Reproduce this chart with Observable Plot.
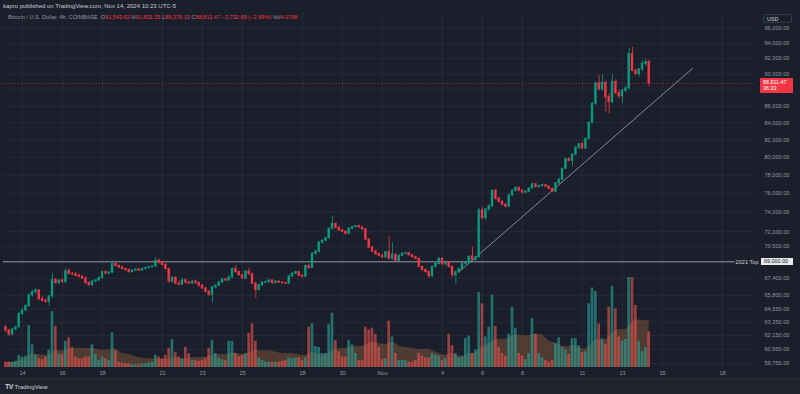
<!DOCTYPE html>
<html><head><meta charset="utf-8">
<script src="https://cdn.jsdelivr.net/npm/d3@7"></script>
<script src="https://cdn.jsdelivr.net/npm/@observablehq/plot@0.6"></script>
<style>
html,body{margin:0;padding:0;background:#1b1f2b;}
#wrap{position:relative;width:800px;height:394px;overflow:hidden;background:#1b1f2b;font-family:"Liberation Sans",Arial,sans-serif;}
#wrap svg{position:absolute;left:0;top:0;}
.lbl{position:absolute;white-space:nowrap;line-height:1;}
</style></head><body><div id="wrap"></div>
<script>
// ---- data: BTC/USD 4h candles, Coinbase, from Oct 13 2024 04:00 ----
const startTime = Date.UTC(2024, 9, 13, 4);
const stepHours = 4;
const open = [62900,62600,62250,62700,62900,64100,64400,64800,65800,66100,
66250,65450,65300,65200,65700,67250,66950,67200,67050,68100,
67850,67800,67650,67550,67400,66950,66750,67100,67200,67450,
68000,67850,67950,68800,68600,68450,68300,68200,68000,68150,
68250,68150,68300,68400,68480,68550,69100,68900,68700,68300,
67100,67450,66900,66800,67200,67000,66900,67100,66950,66700,
66450,66150,65850,66550,66700,67000,67300,67200,67500,68300,
68000,67700,67400,68050,67800,66900,66300,66750,67000,67050,
67200,66950,67100,67000,66950,66900,67600,67850,68000,67650,
67550,68600,68400,69800,70000,70900,71100,71350,72300,72800,
72400,72150,72000,71800,72300,72480,72580,72450,72250,71200,
70400,70000,69750,69600,69450,69950,69300,69700,69100,69600,
69800,69850,69650,69450,69300,68500,68200,68000,67600,68500,
68800,69300,68750,68900,68500,67700,68000,68300,68800,68900,
69500,69200,69450,74200,73400,74300,74650,76300,75450,75100,
74800,74600,75800,76300,76600,76300,76100,76200,76550,77000,
76700,76800,76900,76750,76500,76200,77100,77500,78700,79800,
79600,80300,81100,81500,81000,82100,84000,86300,88800,88100,
88900,87100,86500,89000,87600,87200,87900,88200,92600,90400,
90000,90600,91300,91543.62];
const high = [63050,62700,62800,63000,64250,64550,64950,65950,66250,66450,
66350,65700,65500,65800,67900,67400,67250,67350,68400,68350,
68000,67950,67800,67700,67500,67100,67200,67300,67550,68100,
68150,68050,68900,68950,68700,68550,68400,68300,68250,68300,
68350,68400,68500,68550,68650,69400,69300,69000,68800,68400,
67600,67550,67150,67400,67350,67150,67200,67200,67050,66800,
66550,66250,66650,66800,67100,67400,67400,67600,68400,68650,
68100,67800,68150,68400,67900,67000,66850,67050,67150,67300,
67250,67200,67150,67100,67050,67700,67950,68100,68050,67750,
68700,68750,69900,70150,71000,71200,71450,72400,73600,72900,
72550,72250,72100,72400,72550,72650,72650,72500,72300,71300,
70500,70150,69900,69750,70050,71500,70900,69800,69650,69900,
69950,69900,69700,69550,69350,68600,68300,68100,68600,68900,
69400,69400,69000,69000,68600,68100,68400,68900,69000,69600,
70450,69500,74400,74500,74400,74800,76400,76450,75600,75250,
74950,75900,76400,76700,76700,76400,76300,76650,77150,77100,
76900,77000,76950,76800,76600,77200,77650,78800,79900,79950,
80400,81200,81600,81750,82200,84100,86400,89000,89800,89900,
89100,87600,89900,89300,88000,88100,88500,93300,93500,90700,
90700,91700,91900,91831.25];
const low = [62450,62050,62150,62600,62800,63950,64300,64700,65650,65900,
65300,65200,65050,64750,65500,66850,66800,66950,66900,67750,
67650,67550,67450,67300,66850,66650,66650,66950,67100,67350,
67750,67750,67850,68500,68350,68200,68100,67900,67950,68050,
68100,68100,68200,68300,68400,68450,68800,68600,68200,66900,
66950,66800,66700,66750,66850,66850,66800,66850,66600,66350,
66050,65700,65100,66400,66600,66900,67100,67100,67400,67900,
67600,67300,67300,67700,66800,65500,66200,66650,66900,66950,
66850,66900,66950,66850,66850,66850,67500,67750,67550,67450,
67500,68300,68350,69650,69900,70750,71000,71250,72200,72300,
72050,71900,71700,71700,72200,72400,72350,72150,71100,70300,
69900,69600,69500,69350,69300,69200,69200,69000,69000,69500,
69700,69550,69400,69200,68400,68100,67900,67400,67500,68400,
68700,68650,68600,68400,67500,66800,67900,68200,68600,68800,
69100,69000,69350,73200,73200,74100,74500,75300,74950,74700,
74450,74500,75700,76150,76200,76000,76000,76100,76450,76600,
76600,76700,76650,76400,76100,76100,77000,77400,78600,79500,
79000,80200,80900,80900,80900,82000,83900,86100,87900,87800,
85300,85100,86300,87400,86900,86300,87700,88000,90300,89800,
89600,90300,91000,88376.13];
const close = [62600,62250,62700,62900,64100,64400,64800,65800,66100,66250,
65450,65300,65200,65700,67250,66950,67200,67050,68100,67850,
67800,67650,67550,67400,66950,66750,67100,67200,67450,68000,
67850,67950,68800,68600,68450,68300,68200,68000,68150,68250,
68150,68300,68400,68480,68550,69100,68900,68700,68300,67100,
67450,66900,66800,67200,67000,66900,67100,66950,66700,66450,
66150,65850,66550,66700,67000,67300,67200,67500,68300,68000,
67700,67400,68050,67800,66900,66300,66750,67000,67050,67200,
66950,67100,67000,66950,66900,67600,67850,68000,67650,67550,
68600,68400,69800,70000,70900,71100,71350,72300,72800,72400,
72150,72000,71800,72300,72480,72580,72450,72250,71200,70400,
70000,69750,69600,69450,69950,69300,69700,69100,69600,69800,
69850,69650,69450,69300,68500,68200,68000,67600,68500,68800,
69300,68750,68900,68500,67700,68000,68300,68800,68900,69500,
69200,69450,74200,73400,74300,74650,76300,75450,75100,74800,
74600,75800,76300,76600,76300,76100,76200,76550,77000,76700,
76800,76900,76750,76500,76200,77100,77500,78700,79800,79600,
80300,81100,81500,81000,82100,84000,86300,88800,88100,88900,
87100,86500,89000,87600,87200,87900,88200,92600,90400,90000,
90600,91300,91544.16,88811.47];
// volume in thousands of BTC
const volumeK = [0.6,0.6,0.6,0.7,1.4,1.2,1.3,4.8,2.6,1.4,
1.0,0.9,1.2,2.0,6.4,4.7,1.5,1.5,3.0,3.4,
2.3,1.2,1.0,1.0,1.2,1.2,2.6,1.5,0.8,1.2,
1.0,0.8,4.0,1.9,0.6,0.5,0.4,0.4,0.3,0.3,
0.3,0.4,0.4,0.5,0.6,1.4,1.2,1.0,1.4,2.2,
3.2,1.7,1.2,1.0,2.3,1.6,0.8,0.8,0.7,0.8,
1.0,2.2,3.1,1.6,1.1,0.9,0.8,3.0,3.0,1.6,
1.2,1.4,1.6,3.9,5.0,3.0,1.1,0.8,0.6,0.6,
0.6,0.6,0.6,0.7,0.8,1.1,1.0,1.1,1.1,0.8,
1.1,4.6,5.0,2.4,2.3,1.6,1.6,4.9,6.2,3.1,
1.8,1.2,1.2,3.1,2.6,1.6,0.8,0.8,4.6,4.3,
4.5,3.8,2.3,0.9,1.0,5.3,3.5,1.6,0.8,0.8,
0.8,0.6,0.6,0.8,1.6,1.3,1.1,1.1,1.6,1.4,
1.3,0.8,1.0,3.8,2.5,1.6,1.1,1.2,3.3,3.6,
1.6,2.0,8.6,7.3,3.5,4.6,8.3,4.7,2.3,1.6,
1.3,3.8,6.9,4.5,1.6,1.3,0.9,1.6,5.6,3.8,
1.6,1.1,0.8,0.6,0.8,2.7,3.4,2.3,2.0,1.5,
3.3,3.3,2.5,1.7,1.8,7.3,9.1,8.7,5.0,3.3,
2.6,6.9,9.3,6.7,3.5,3.0,3.2,10.3,10.3,7.1,
3.0,1.8,2.3,4.076];

const xTickDates = ["2024-10-14","2024-10-16","2024-10-18","2024-10-21","2024-10-23","2024-10-25","2024-10-28","2024-10-30","2024-11-01","2024-11-04","2024-11-06","2024-11-08","2024-11-11","2024-11-13","2024-11-15","2024-11-18"];
const xTickLabels = ["14","16","18","21","23","25","28","30","Nov","4","6","8","11","13","15","18"];
const yTicks = [96000,94000,92000,90000,86000,84000,82000,80000,78000,76000,74000,72000,70500,67400,65800,64550,63350,62150,60950,59750];
const yGrid = [96000,94000,92000,90000,88000,86000,84000,82000,80000,78000,76000,74000,72000,70500,69000,67400,65800,64550,63350,62150,60950,59750];
const topLevel = 69000;            // "2021 Top"
const trendDates = ["2024-11-04T19:00Z","2024-11-16T12:00Z"];
const trendPrices = [67970, 90720];

// ---- build ----
const HOUR = 3600e3;
const UP = "#089981", DOWN = "#f23645";
const VUP = "#26a69a", VDOWN = "#ef5350";
const candles = open.map((o, i) => ({
  date: new Date(startTime + i * stepHours * HOUR),
  open: o, high: high[i], low: low[i], close: close[i], vol: volumeK[i],
  color: close[i] >= o ? UP : DOWN,
  vcolor: close[i] >= o ? VUP : VDOWN
}));
const trend = trendDates.map((d, i) => ({date: new Date(d), price: trendPrices[i]}));
const xDates = xTickDates.map(d => new Date(d + "T00:00Z"));
const labelOf = new Map(xDates.map((d, i) => [+d, xTickLabels[i]]));
const last = candles[candles.length - 1];
const prev = candles[candles.length - 2];

const FONT = '"Liberation Sans", Arial, sans-serif';
const BG = "#1b1f2b", GRID = "#262a36";
const dims = {width: 800, height: 394, marginTop: 12, marginBottom: 26, marginLeft: 3, marginRight: 46};
const xScale = {type: "utc", domain: [new Date("2024-10-14T00:00Z"), new Date("2024-11-18T00:00Z")], range: [22, 722]};

const price = Plot.plot({
  ...dims,
  style: {background: "transparent", color: "#9598a1", fontSize: "5.6px", fontFamily: FONT},
  x: xScale,
  y: {type: "log", domain: [59750, 96000], range: [363, 28]},
  color: {type: "identity"},
  marks: [
    Plot.gridX(xDates, {stroke: GRID, strokeOpacity: 1}),
    Plot.gridY(yGrid, {stroke: GRID, strokeOpacity: 1}),
    Plot.ruleY([last.close], {stroke: DOWN, strokeOpacity: 0.6, strokeDasharray: "1,2"}),
    Plot.ruleY([topLevel], {stroke: "#9598a1", strokeWidth: 1}),
    Plot.line(trend, {x: "date", y: "price", stroke: "#a3a6af", strokeWidth: 0.8}),
    Plot.ruleX(candles, {x: "date", y1: "low", y2: "high", stroke: "color", strokeWidth: 0.8}),
    Plot.rect(candles, {
      x1: d => new Date(+d.date - 1.4 * HOUR), x2: d => new Date(+d.date + 1.4 * HOUR),
      y1: "open", y2: "close", fill: "color", insetTop: -0.5, insetBottom: -0.5
    }),
    Plot.text([topLevel], {y: d => d, text: () => "2021 Top", frameAnchor: "right", textAnchor: "end", dx: 4,
      fill: "#d1d4dc", stroke: BG, strokeWidth: 3, fontSize: 5.6}),
    Plot.axisY(yTicks, {anchor: "right", tickSize: 0, tickPadding: 10, tickFormat: d3.format(",.2f"), fill: "#9598a1"}),
    Plot.axisX(xDates, {anchor: "bottom", tickSize: 0, tickPadding: 3, tickFormat: d => labelOf.get(+d), fill: "#9598a1"})
  ]
});

const volume = Plot.plot({
  ...dims,
  style: {background: "transparent"},
  x: {...xScale, axis: null},
  y: {domain: [0, 10.3], range: [367, 277], axis: null},
  color: {type: "identity"},
  marks: [
    Plot.areaY(candles, Plot.windowY({k: 20, anchor: "end"}, {x: "date", y: "vol", fill: "#a86a42", fillOpacity: 0.38})),
    Plot.rectY(candles, {
      x1: d => new Date(+d.date - 1.6 * HOUR), x2: d => new Date(+d.date + 1.6 * HOUR),
      y: "vol", fill: "vcolor", fillOpacity: 0.6
    })
  ]
});

const wrap = document.getElementById("wrap");
wrap.appendChild(price);
wrap.appendChild(volume);

const ys = price.scale("y");
const fmt = d3.format(",.2f");
function add(html, css) {
  const el = document.createElement("div");
  el.className = "lbl";
  el.innerHTML = html;
  Object.assign(el.style, css);
  wrap.appendChild(el);
  return el;
}
const g = s => `<span style="color:#9598a1">${s}</span>`;
const neg = s => s.replace("-", "−");
// header
add("kapro published on TradingView.com, Nov 14, 2024 10:23 UTC-5",
  {left: "3px", top: "3px", fontSize: "6px", color: "#c8cad0"});
add(`Bitcoin / U.S. Dollar, 4h, COINBASE&nbsp;&nbsp;<span style="color:#f23645">${g("O")}${fmt(last.open)} ${g("H")}${fmt(last.high)} ${g("L")}${fmt(last.low)} ${g("C")}${fmt(last.close)} ${neg(fmt(last.close - prev.close))} (${neg(d3.format(".2f")((last.close - prev.close) / prev.close * 100))}%) ${g("Vol")}${d3.format(".3f")(last.vol)}K</span>`,
  {left: "8px", top: "15px", fontSize: "5.6px", color: "#9598a1"});
// USD box
add("USD", {left: "763px", top: "14px", width: "29px", height: "9px", lineHeight: "9px", fontSize: "5.4px",
  color: "#d1d4dc", border: "1px solid #363a45", borderRadius: "2px", background: BG, paddingLeft: "3px", boxSizing: "border-box"});
// last price box
const yl = ys.apply(last.close);
add(`${fmt(last.close)}<br>36:33`, {left: "760px", top: (yl - 5) + "px", width: "33px", height: "15px", fontSize: "5.4px",
  lineHeight: "6.5px", color: "#fff", background: "#f23645", borderRadius: "1px", padding: "1px 0 0 3px", boxSizing: "border-box"});
// 2021 top box
const yt = ys.apply(topLevel);
add(fmt(topLevel), {left: "761px", top: (yt - 3.5) + "px", width: "32px", height: "7px", lineHeight: "7px", fontSize: "5.4px",
  color: "#131722", background: "#e8e9ec", paddingLeft: "3px", boxSizing: "border-box"});
// footer
add("", {left: "0px", top: "378px", width: "800px", height: "16px", background: "#1f232e", borderTop: "1px solid #2a2e39"});
add(`<b style="font-size:7px;letter-spacing:-0.5px">TV</b> TradingView`, {left: "5px", top: "383px", fontSize: "6px", color: "#d1d4dc"});
</script></body></html>
